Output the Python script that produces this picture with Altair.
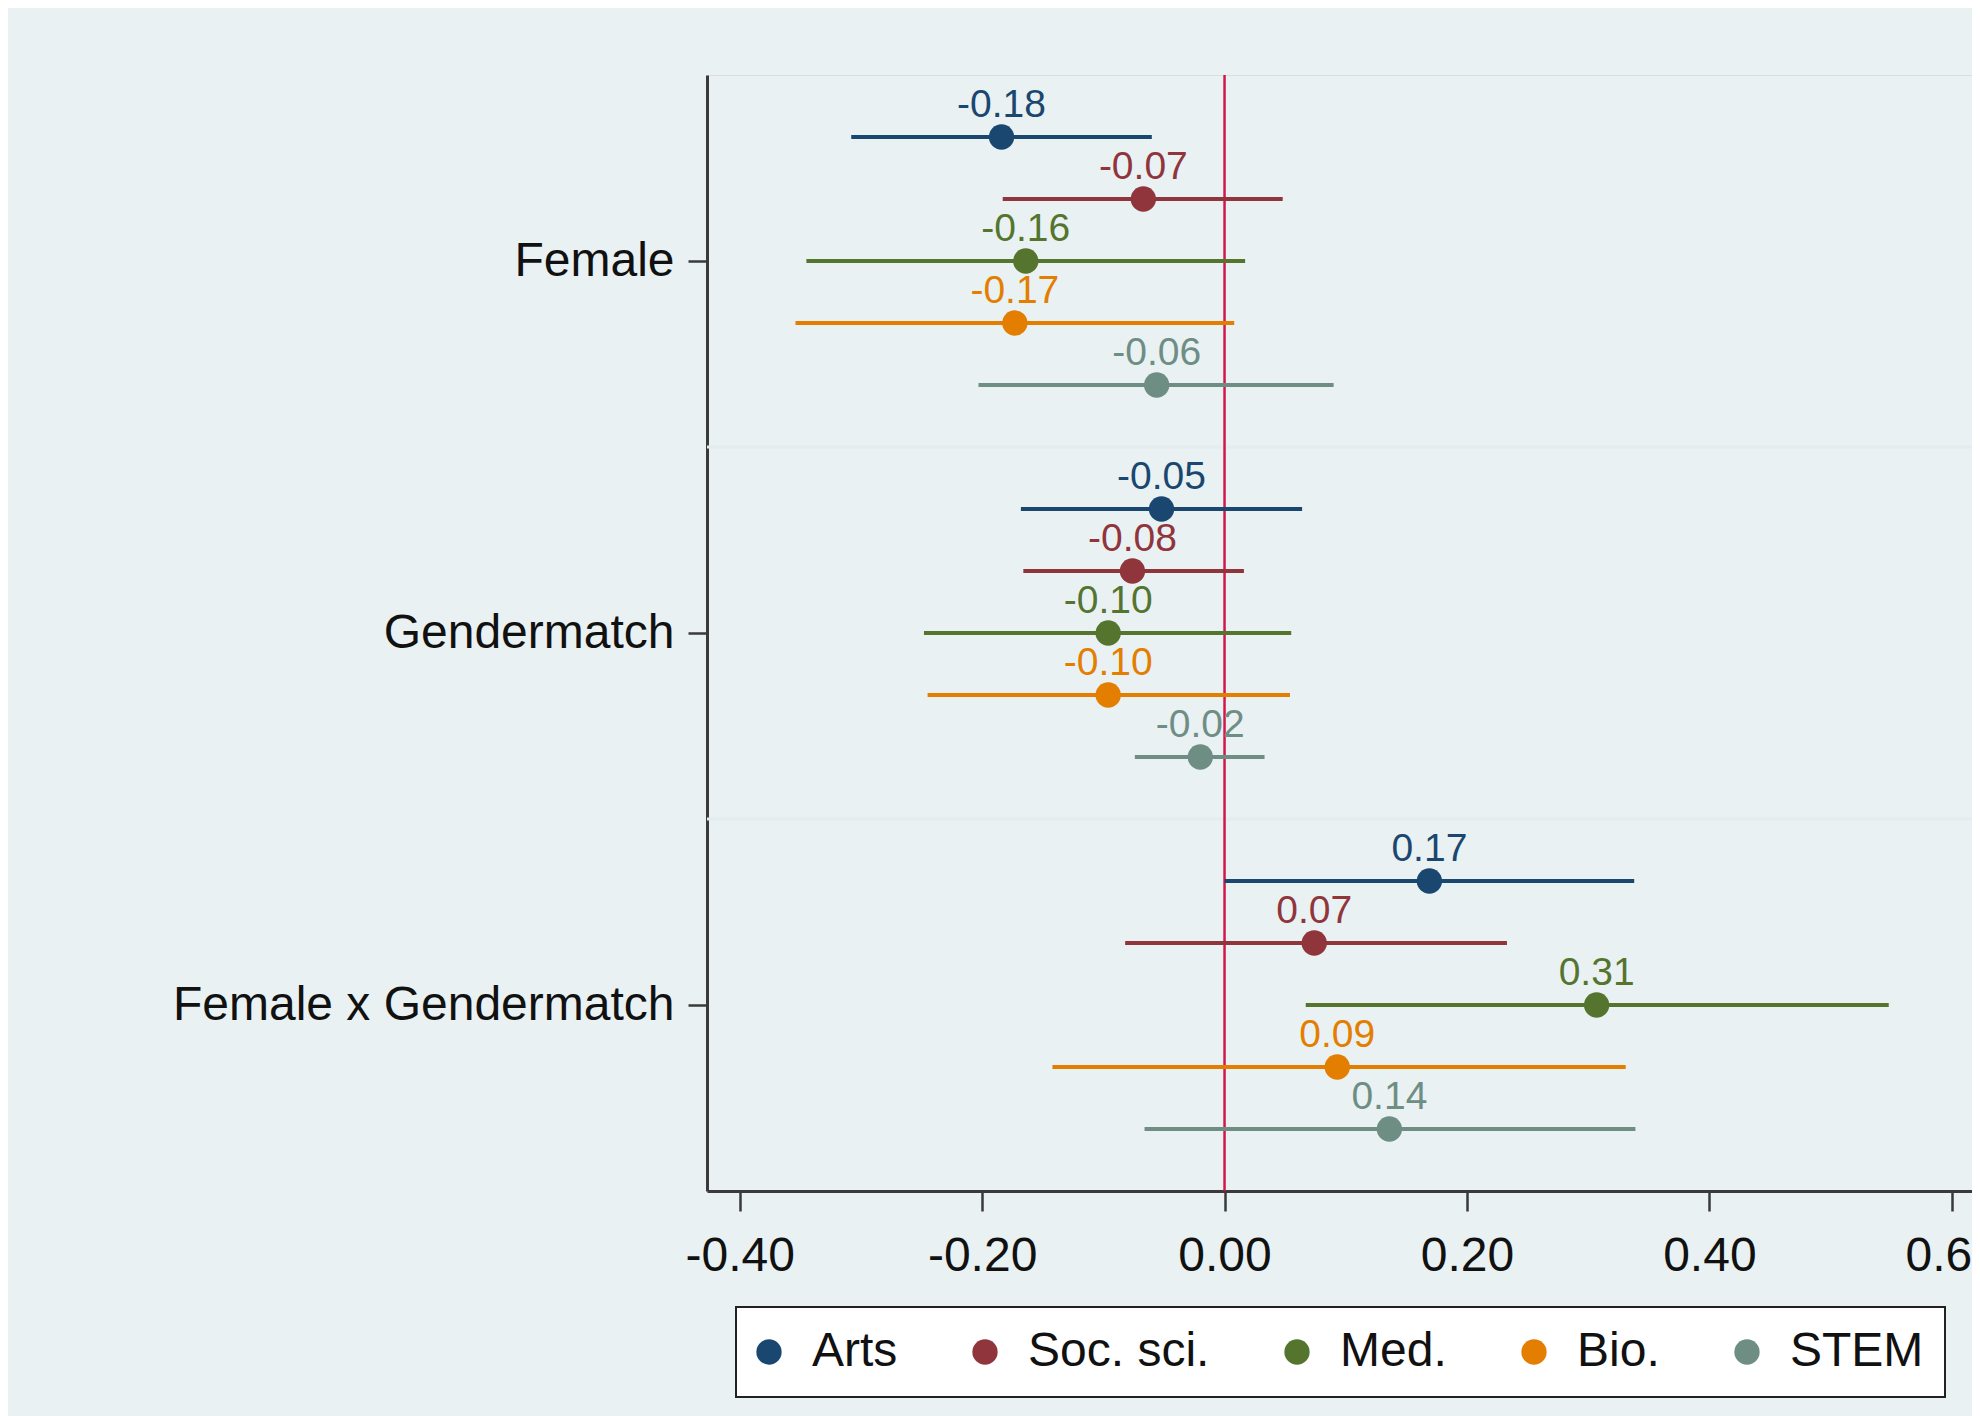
import altair as alt
import pandas as pd

# ---- data ----
terms = ["Female", "Gendermatch", "Female x Gendermatch"]
fields = ["Arts", "Soc. sci.", "Med.", "Bio.", "STEM"]
colors = ["#1a476f", "#90353b", "#55752f", "#e37e00", "#6e8e84"]

est_female = [-0.184, -0.067, -0.164, -0.173, -0.056]
lo_female = [-0.308, -0.183, -0.345, -0.354, -0.203]
hi_female = [-0.060, 0.048, 0.017, 0.008, 0.090]

est_gm = [-0.052, -0.076, -0.096, -0.096, -0.020]
lo_gm = [-0.168, -0.166, -0.248, -0.245, -0.074]
hi_gm = [0.064, 0.016, 0.055, 0.054, 0.033]

est_fxg = [0.169, 0.074, 0.307, 0.093, 0.136]
lo_fxg = [0.000, -0.082, 0.067, -0.142, -0.066]
hi_fxg = [0.338, 0.233, 0.548, 0.331, 0.339]

x_ticks = [-0.4, -0.2, 0.0, 0.2, 0.4, 0.6]
ref_x = [0.0]

# ---- build table ----
ests = [est_female, est_gm, est_fxg]
los = [lo_female, lo_gm, lo_fxg]
his = [hi_female, hi_gm, hi_fxg]
slots = len(fields) + 1
rows = []
for g, term in enumerate(terms):
    for i, f in enumerate(fields):
        rows.append({"term": term, "field": f, "est": ests[g][i],
                     "lo": los[g][i], "hi": his[g][i],
                     "row": g * slots + i + 1})
df = pd.DataFrame(rows)
n_rows = len(terms) * slots
term_ticks = [g * slots + slots / 2 for g in range(len(terms))]
sep_df = pd.DataFrame({"sep": [g * slots for g in range(1, len(terms))]})
ref_df = pd.DataFrame({"zero": ref_x})

FONT = "Liberation Sans"
label_expr = " : ".join(
    f"datum.value == {v} ? '{t}'" for v, t in zip(term_ticks[:-1], terms[:-1])
) + f" : '{terms[-1]}'"

x_scale = alt.Scale(domain=[-0.427, 0.6167], nice=False, zero=False)
y_scale = alt.Scale(domain=[0, n_rows], reverse=True, nice=False, zero=False)
x_axis = alt.Axis(values=x_ticks, title=None, grid=False,
                  labelExpr="replace(format(datum.value, '.2f'), '\u2212', '-')",
                  tickSize=20, tickWidth=2.5, tickColor="#3a3a3a",
                  domainWidth=3, domainColor="#3a3a3a",
                  labelFontSize=48, labelPadding=21, labelColor="#111111",
                  labelFont=FONT, labelFlush=False, labelOverlap=False)
y_axis = alt.Axis(values=term_ticks, title=None, grid=False,
                  labelExpr=label_expr,
                  tickSize=19, tickWidth=2.5, tickColor="#3a3a3a",
                  domainWidth=3, domainColor="#3a3a3a",
                  labelFontSize=48, labelPadding=14, labelColor="#111111",
                  labelFont=FONT, labelLimit=0, labelOverlap=False)
color_scale = alt.Scale(domain=fields, range=colors)

base = alt.Chart(df)

seps = alt.Chart(sep_df).mark_rule(color="#E3ECEF", strokeWidth=3).encode(
    y=alt.Y("sep:Q", scale=y_scale, axis=y_axis))

zero = alt.Chart(ref_df).mark_rule(color="#D4174A", strokeWidth=2.5).encode(
    x=alt.X("zero:Q", scale=x_scale, axis=x_axis))

bars = base.mark_rule(strokeWidth=4).encode(
    x=alt.X("lo:Q", scale=x_scale, axis=x_axis),
    x2="hi:Q",
    y=alt.Y("row:Q", scale=y_scale, axis=y_axis),
    color=alt.Color("field:N", scale=color_scale, legend=None))

points = base.mark_circle(size=640, opacity=1).encode(
    x=alt.X("est:Q", scale=x_scale, axis=x_axis),
    y=alt.Y("row:Q", scale=y_scale, axis=y_axis),
    color=alt.Color("field:N", scale=color_scale, sort=fields,
                    legend=alt.Legend(
                        title=None, orient="none", direction="horizontal",
                        legendX=29, legendY=1232,
                        padding=21, strokeColor="#222222", fillColor="#FFFFFF",
                        labelFontSize=48, labelFont=FONT, labelColor="#111111",
                        labelLimit=0,
                        labelOffset=19, columnPadding=74, symbolOffset=-12,
                        symbolType="circle", symbolSize=640,
                        symbolStrokeWidth=0, symbolOpacity=1)))

labels = base.transform_calculate(
    label="replace(format(datum.est, '.2f'), '\u2212', '-')"
).mark_text(fontSize=39, font=FONT, baseline="alphabetic", align="center", dy=-20).encode(
    x=alt.X("est:Q", scale=x_scale, axis=x_axis),
    y=alt.Y("row:Q", scale=y_scale, axis=y_axis),
    text="label:N",
    color=alt.Color("field:N", scale=color_scale, legend=None))

chart = alt.layer(seps, zero, bars, points, labels).resolve_legend(
    color="independent"
).properties(
    width=1265, height=1116,
    background="#E9F1F3",
    padding={"left": 699, "top": 67, "right": 0, "bottom": 225},
    autosize=alt.AutoSizeParams(type="none"),
).configure_view(
    stroke=None, fill="#FFFFFF"
).configure(font=FONT).configure_legend(strokeWidth=2)

chart.save("out.html", embed_options={"renderer": "svg", "actions": False})
